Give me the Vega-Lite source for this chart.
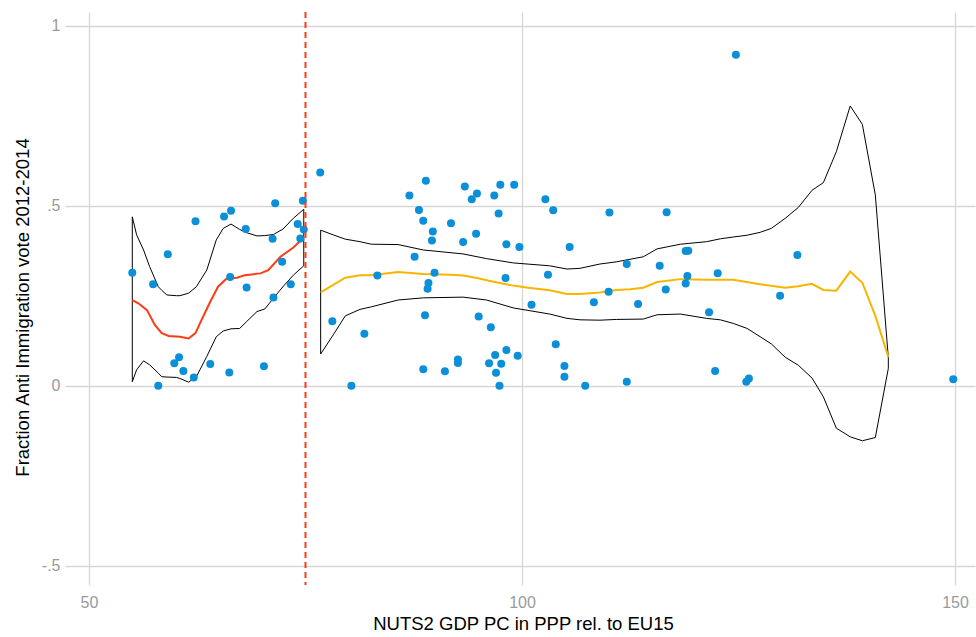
{
  "$schema": "https://vega.github.io/schema/vega-lite/v6.json",
  "width": 910,
  "height": 573,
  "autosize": {"type": "none"},
  "padding": {"left": 65, "top": 12, "right": 1, "bottom": 52},
  "background": "white",
  "config": {
    "view": {"stroke": null},
    "font": "Liberation Sans",
    "axis": {
      "domain": false,
      "ticks": false,
      "gridColor": "#d6d6d6",
      "gridWidth": 1.3,
      "labelColor": "#9a9a9a",
      "labelFontSize": 16,
      "labelFont": "Liberation Sans",
      "titleFont": "Liberation Sans",
      "titleFontSize": 18.5,
      "titleFontWeight": "normal",
      "titleColor": "#000000"
    }
  },
  "datasets": {
    "points": [
      {"x": 55.0, "y": 0.314}, {"x": 57.4, "y": 0.282}, {"x": 59.1, "y": 0.365}, {"x": 62.3, "y": 0.457},
      {"x": 65.6, "y": 0.470}, {"x": 66.4, "y": 0.486}, {"x": 68.1, "y": 0.435}, {"x": 71.5, "y": 0.507},
      {"x": 74.7, "y": 0.514}, {"x": 74.1, "y": 0.449}, {"x": 74.8, "y": 0.434}, {"x": 74.4, "y": 0.409},
      {"x": 71.2, "y": 0.408}, {"x": 72.3, "y": 0.344}, {"x": 73.3, "y": 0.282}, {"x": 66.3, "y": 0.302},
      {"x": 68.2, "y": 0.273}, {"x": 71.3, "y": 0.245}, {"x": 59.85, "y": 0.062}, {"x": 60.4, "y": 0.079},
      {"x": 60.9, "y": 0.041}, {"x": 62.1, "y": 0.023}, {"x": 64.0, "y": 0.060}, {"x": 66.2, "y": 0.037},
      {"x": 70.2, "y": 0.054}, {"x": 58.0, "y": 0.0},
      {"x": 76.7, "y": 0.592}, {"x": 78.1, "y": 0.179}, {"x": 80.3, "y": 0.0}, {"x": 81.8, "y": 0.144},
      {"x": 83.3, "y": 0.306}, {"x": 87.0, "y": 0.528}, {"x": 88.9, "y": 0.569}, {"x": 88.1, "y": 0.488},
      {"x": 88.6, "y": 0.458}, {"x": 89.7, "y": 0.428}, {"x": 89.6, "y": 0.403}, {"x": 87.6, "y": 0.358},
      {"x": 89.9, "y": 0.314}, {"x": 89.2, "y": 0.285}, {"x": 89.1, "y": 0.269}, {"x": 88.8, "y": 0.196},
      {"x": 88.6, "y": 0.046}, {"x": 91.1, "y": 0.040}, {"x": 92.6, "y": 0.073}, {"x": 92.6, "y": 0.063},
      {"x": 91.8, "y": 0.451}, {"x": 93.4, "y": 0.553}, {"x": 94.8, "y": 0.534}, {"x": 94.2, "y": 0.518},
      {"x": 93.2, "y": 0.399}, {"x": 94.7, "y": 0.422}, {"x": 96.8, "y": 0.528}, {"x": 97.5, "y": 0.558},
      {"x": 99.1, "y": 0.558}, {"x": 97.3, "y": 0.478}, {"x": 98.2, "y": 0.393}, {"x": 99.7, "y": 0.385},
      {"x": 98.1, "y": 0.299}, {"x": 95.0, "y": 0.192}, {"x": 96.4, "y": 0.162}, {"x": 96.9, "y": 0.085},
      {"x": 98.2, "y": 0.099}, {"x": 99.5, "y": 0.083}, {"x": 96.2, "y": 0.062}, {"x": 97.6, "y": 0.061},
      {"x": 97.0, "y": 0.036}, {"x": 97.4, "y": 0.0}, {"x": 102.7, "y": 0.518}, {"x": 103.6, "y": 0.487},
      {"x": 105.5, "y": 0.385}, {"x": 103.0, "y": 0.308}, {"x": 101.1, "y": 0.225}, {"x": 103.9, "y": 0.115},
      {"x": 104.9, "y": 0.055}, {"x": 104.9, "y": 0.025}, {"x": 107.3, "y": 0.0}, {"x": 108.3, "y": 0.232},
      {"x": 110.1, "y": 0.481}, {"x": 116.7, "y": 0.482}, {"x": 110.0, "y": 0.261}, {"x": 112.1, "y": 0.338},
      {"x": 113.4, "y": 0.227}, {"x": 115.9, "y": 0.333}, {"x": 116.6, "y": 0.267}, {"x": 118.9, "y": 0.374},
      {"x": 119.2, "y": 0.375}, {"x": 119.1, "y": 0.305}, {"x": 118.9, "y": 0.284}, {"x": 122.6, "y": 0.312},
      {"x": 121.6, "y": 0.204}, {"x": 131.8, "y": 0.363}, {"x": 129.8, "y": 0.250}, {"x": 112.1, "y": 0.011},
      {"x": 122.3, "y": 0.041}, {"x": 125.9, "y": 0.011}, {"x": 126.2, "y": 0.020}, {"x": 149.8, "y": 0.018},
      {"x": 124.7, "y": 0.919}
    ],
    "band1": [
      {"x": 55.0, "lo": 0.011, "hi": 0.469}, {"x": 55.5, "lo": 0.044, "hi": 0.419},
      {"x": 56.3, "lo": 0.069, "hi": 0.377}, {"x": 57.0, "lo": 0.058, "hi": 0.331},
      {"x": 58.0, "lo": 0.035, "hi": 0.275}, {"x": 58.4, "lo": 0.025, "hi": 0.265},
      {"x": 59.0, "lo": 0.024, "hi": 0.252}, {"x": 60.1, "lo": 0.023, "hi": 0.250},
      {"x": 60.5, "lo": 0.020, "hi": 0.250}, {"x": 61.5, "lo": 0.010, "hi": 0.257},
      {"x": 62.4, "lo": 0.025, "hi": 0.275}, {"x": 63.6, "lo": 0.081, "hi": 0.321},
      {"x": 64.7, "lo": 0.136, "hi": 0.405}, {"x": 65.5, "lo": 0.152, "hi": 0.437},
      {"x": 66.4, "lo": 0.158, "hi": 0.449}, {"x": 67.4, "lo": 0.159, "hi": 0.434},
      {"x": 68.2, "lo": 0.178, "hi": 0.425}, {"x": 69.4, "lo": 0.206, "hi": 0.416},
      {"x": 70.3, "lo": 0.213, "hi": 0.417}, {"x": 71.3, "lo": 0.243, "hi": 0.420},
      {"x": 72.4, "lo": 0.275, "hi": 0.435}, {"x": 73.6, "lo": 0.307, "hi": 0.465},
      {"x": 74.8, "lo": 0.333, "hi": 0.490}
    ],
    "band2": [
      {"x": 76.75, "lo": 0.088, "hi": 0.432}, {"x": 78.2, "lo": 0.141, "hi": 0.419},
      {"x": 79.6, "lo": 0.194, "hi": 0.407}, {"x": 81.3, "lo": 0.212, "hi": 0.400},
      {"x": 82.6, "lo": 0.219, "hi": 0.393}, {"x": 85.7, "lo": 0.238, "hi": 0.392},
      {"x": 88.6, "lo": 0.244, "hi": 0.377}, {"x": 93.2, "lo": 0.246, "hi": 0.366},
      {"x": 95.9, "lo": 0.238, "hi": 0.353}, {"x": 99.0, "lo": 0.216, "hi": 0.341},
      {"x": 103.2, "lo": 0.199, "hi": 0.333}, {"x": 105.2, "lo": 0.187, "hi": 0.324},
      {"x": 106.7, "lo": 0.183, "hi": 0.326}, {"x": 109.0, "lo": 0.182, "hi": 0.338},
      {"x": 110.9, "lo": 0.184, "hi": 0.344}, {"x": 114.0, "lo": 0.185, "hi": 0.358},
      {"x": 115.6, "lo": 0.197, "hi": 0.380}, {"x": 118.3, "lo": 0.199, "hi": 0.393},
      {"x": 121.3, "lo": 0.187, "hi": 0.400}, {"x": 122.9, "lo": 0.183, "hi": 0.408},
      {"x": 124.4, "lo": 0.173, "hi": 0.413}, {"x": 126.0, "lo": 0.159, "hi": 0.418},
      {"x": 127.5, "lo": 0.136, "hi": 0.426}, {"x": 128.8, "lo": 0.116, "hi": 0.437},
      {"x": 130.4, "lo": 0.079, "hi": 0.465}, {"x": 131.9, "lo": 0.057, "hi": 0.495},
      {"x": 133.5, "lo": 0.021, "hi": 0.543}, {"x": 134.8, "lo": -0.031, "hi": 0.564},
      {"x": 136.3, "lo": -0.118, "hi": 0.650}, {"x": 137.9, "lo": -0.142, "hi": 0.777},
      {"x": 139.3, "lo": -0.153, "hi": 0.726}, {"x": 140.8, "lo": -0.144, "hi": 0.530},
      {"x": 142.3, "lo": 0.048, "hi": 0.078}
    ],
    "fit1": [
      {"x": 55.0, "y": 0.238}, {"x": 55.7, "y": 0.229}, {"x": 56.7, "y": 0.210}, {"x": 57.6, "y": 0.169},
      {"x": 58.4, "y": 0.146}, {"x": 59.2, "y": 0.138}, {"x": 60.5, "y": 0.136}, {"x": 61.5, "y": 0.131},
      {"x": 62.3, "y": 0.146}, {"x": 63.0, "y": 0.183}, {"x": 64.0, "y": 0.233}, {"x": 64.9, "y": 0.275},
      {"x": 65.9, "y": 0.298}, {"x": 67.1, "y": 0.300}, {"x": 68.0, "y": 0.307}, {"x": 69.8, "y": 0.312},
      {"x": 70.7, "y": 0.321}, {"x": 72.1, "y": 0.358}, {"x": 73.6, "y": 0.384}, {"x": 74.8, "y": 0.412}
    ],
    "fit2": [
      {"x": 76.75, "y": 0.259}, {"x": 79.6, "y": 0.300}, {"x": 81.3, "y": 0.307}, {"x": 82.6, "y": 0.307},
      {"x": 85.7, "y": 0.316}, {"x": 88.6, "y": 0.310}, {"x": 91.7, "y": 0.308}, {"x": 93.2, "y": 0.306},
      {"x": 94.8, "y": 0.299}, {"x": 96.3, "y": 0.291}, {"x": 99.0, "y": 0.278}, {"x": 100.5, "y": 0.273},
      {"x": 103.2, "y": 0.265}, {"x": 105.2, "y": 0.255}, {"x": 106.7, "y": 0.255}, {"x": 109.0, "y": 0.259},
      {"x": 110.9, "y": 0.266}, {"x": 112.5, "y": 0.268}, {"x": 114.0, "y": 0.272}, {"x": 115.6, "y": 0.288},
      {"x": 118.3, "y": 0.296}, {"x": 121.3, "y": 0.294}, {"x": 124.4, "y": 0.294}, {"x": 127.5, "y": 0.282},
      {"x": 130.4, "y": 0.272}, {"x": 131.9, "y": 0.276}, {"x": 133.5, "y": 0.283}, {"x": 134.8, "y": 0.266},
      {"x": 136.3, "y": 0.264}, {"x": 137.9, "y": 0.317}, {"x": 139.3, "y": 0.286}, {"x": 140.8, "y": 0.194},
      {"x": 142.3, "y": 0.080}
    ],
    "cut": [{"x": 75}]
  },
  "layer": [
    {
      "data": {"name": "band1"},
      "mark": {"type": "area", "fillOpacity": 0, "stroke": "#000000", "strokeWidth": 1},
      "encoding": {
        "x": {"field": "x", "type": "quantitative",
              "scale": {"domain": [47.23, 152.31], "nice": false, "zero": false},
              "axis": {"values": [50, 100, 150], "title": "NUTS2 GDP PC in PPP rel. to EU15", "labelPadding": 9, "titlePadding": 4, "titleX": 458}},
        "y": {"field": "hi", "type": "quantitative",
              "scale": {"domain": [-0.5536, 1.038], "nice": false, "zero": false},
              "axis": {"values": [-0.5, 0, 0.5, 1], "title": "Fraction Anti Immigration vote 2012-2014", "labelPadding": 5, "titlePadding": 9, "titleY": 295,
                       "labelExpr": "datum.value == 1 ? '1' : datum.value == 0.5 ? '.5' : datum.value == 0 ? '0' : '-.5'"}},
        "y2": {"field": "lo"}
      }
    },
    {
      "data": {"name": "band2"},
      "mark": {"type": "area", "fillOpacity": 0, "stroke": "#000000", "strokeWidth": 1},
      "encoding": {
        "x": {"field": "x", "type": "quantitative"},
        "y": {"field": "hi", "type": "quantitative"},
        "y2": {"field": "lo"}
      }
    },
    {
      "data": {"name": "fit1"},
      "mark": {"type": "line", "color": "#ff3a14", "strokeWidth": 2},
      "encoding": {
        "x": {"field": "x", "type": "quantitative"},
        "y": {"field": "y", "type": "quantitative"}
      }
    },
    {
      "data": {"name": "fit2"},
      "mark": {"type": "line", "color": "#f7b500", "strokeWidth": 2},
      "encoding": {
        "x": {"field": "x", "type": "quantitative"},
        "y": {"field": "y", "type": "quantitative"}
      }
    },
    {
      "data": {"name": "points"},
      "mark": {"type": "point", "filled": true, "opacity": 1, "size": 64, "color": "#0a8fd8"},
      "encoding": {
        "x": {"field": "x", "type": "quantitative"},
        "y": {"field": "y", "type": "quantitative"}
      }
    },
    {
      "data": {"name": "cut"},
      "mark": {"type": "rule", "color": "#ff3a14", "strokeWidth": 2, "strokeDash": [6, 4]},
      "encoding": {
        "x": {"field": "x", "type": "quantitative"}
      }
    }
  ]
}
